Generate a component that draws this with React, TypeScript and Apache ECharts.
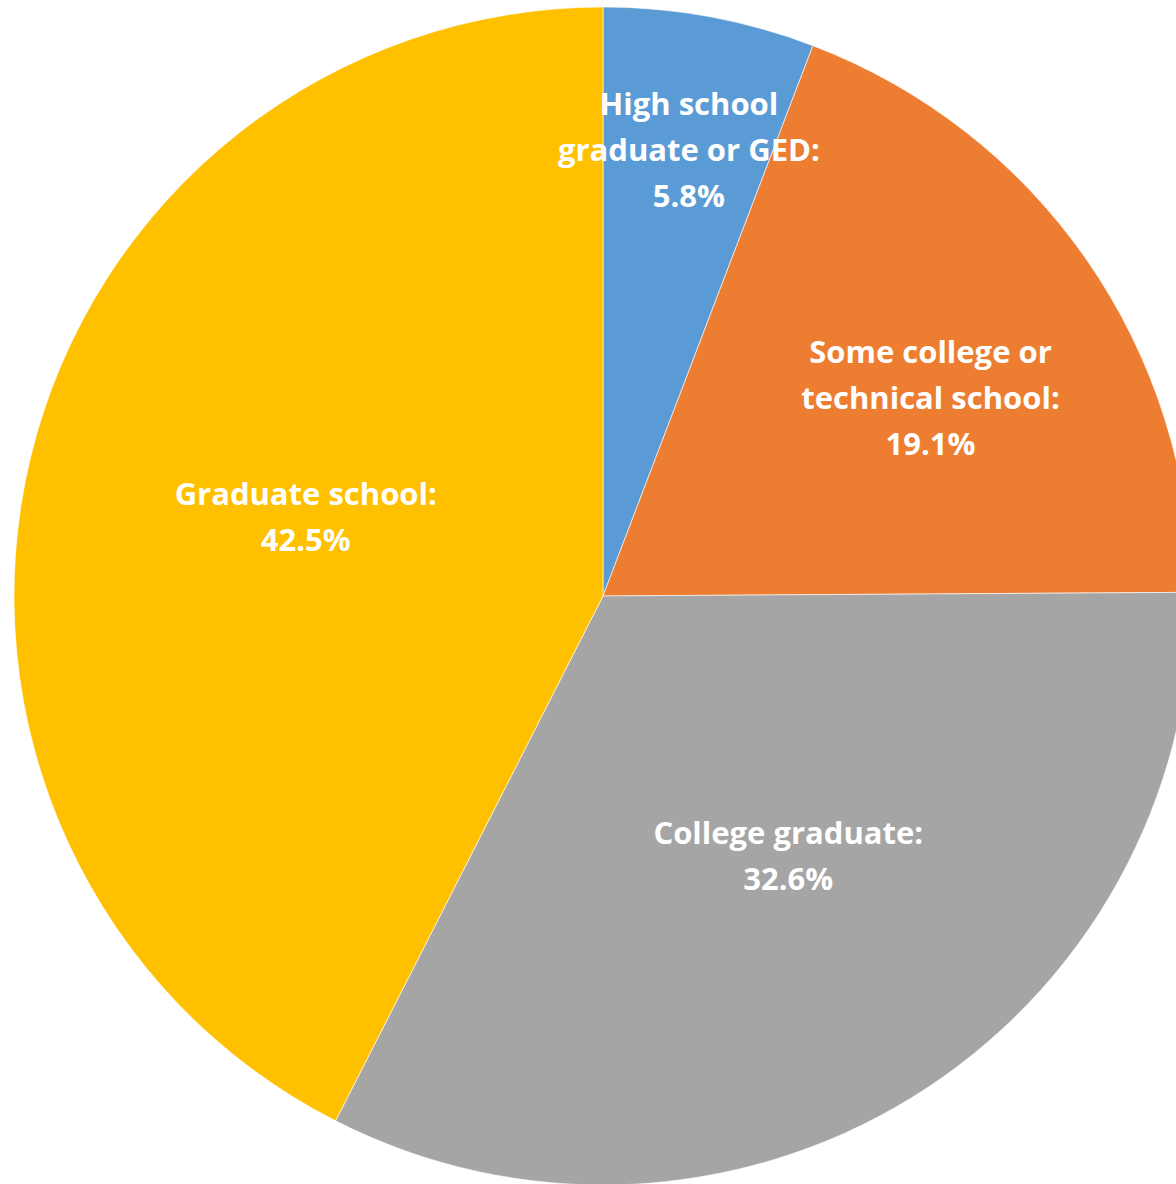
import React, { useEffect, useRef } from "react";
import * as echarts from "echarts";

const categories = [
  "High school\ngraduate or GED",
  "Some college or\ntechnical school",
  "College graduate",
  "Graduate school",
];
const shares = [5.8, 19.1, 32.6, 42.5];
const colors = ["#5B9BD5", "#ED7D31", "#A5A5A5", "#FFC000"];

// label nudges (layout only)
const labelNudge: [number, number][] = [
  [32, -154],
  [83, -29],
  [29, 6],
  [-8, -11],
];

export default function App() {
  const ref = useRef<HTMLDivElement>(null);
  useEffect(() => {
    if (!ref.current) return;
    const chart = echarts.init(ref.current, undefined, { renderer: "svg" });
    chart.setOption({
      animation: false,
      backgroundColor: "#ffffff",
      series: [
        {
          type: "pie",
          center: [603, 596],
          radius: [0, 589],
          startAngle: 90,
          clockwise: true,
          avoidLabelOverlap: false,
          itemStyle: { borderColor: "rgba(255,255,255,0.6)", borderWidth: 1 },
          label: {
            show: true,
            position: "inside",
            color: "#ffffff",
            fontFamily: "'Open Sans', sans-serif",
            fontWeight: "bold",
            fontSize: 31,
            lineHeight: 46,
            align: "center",
            formatter: (p: any) => `${p.name}:\n${Number(p.value).toFixed(1)}%`,
          },
          labelLine: { show: false },
          emphasis: { disabled: true },
          data: categories.map((name, i) => ({
            name,
            value: shares[i],
            itemStyle: { color: colors[i] },
            label: { offset: labelNudge[i] },
          })),
        },
      ],
    });
    return () => chart.dispose();
  }, []);
  return (
    <div
      ref={ref}
      style={{ position: "absolute", left: 0, top: 0, width: 1176, height: 1184 }}
    />
  );
}
